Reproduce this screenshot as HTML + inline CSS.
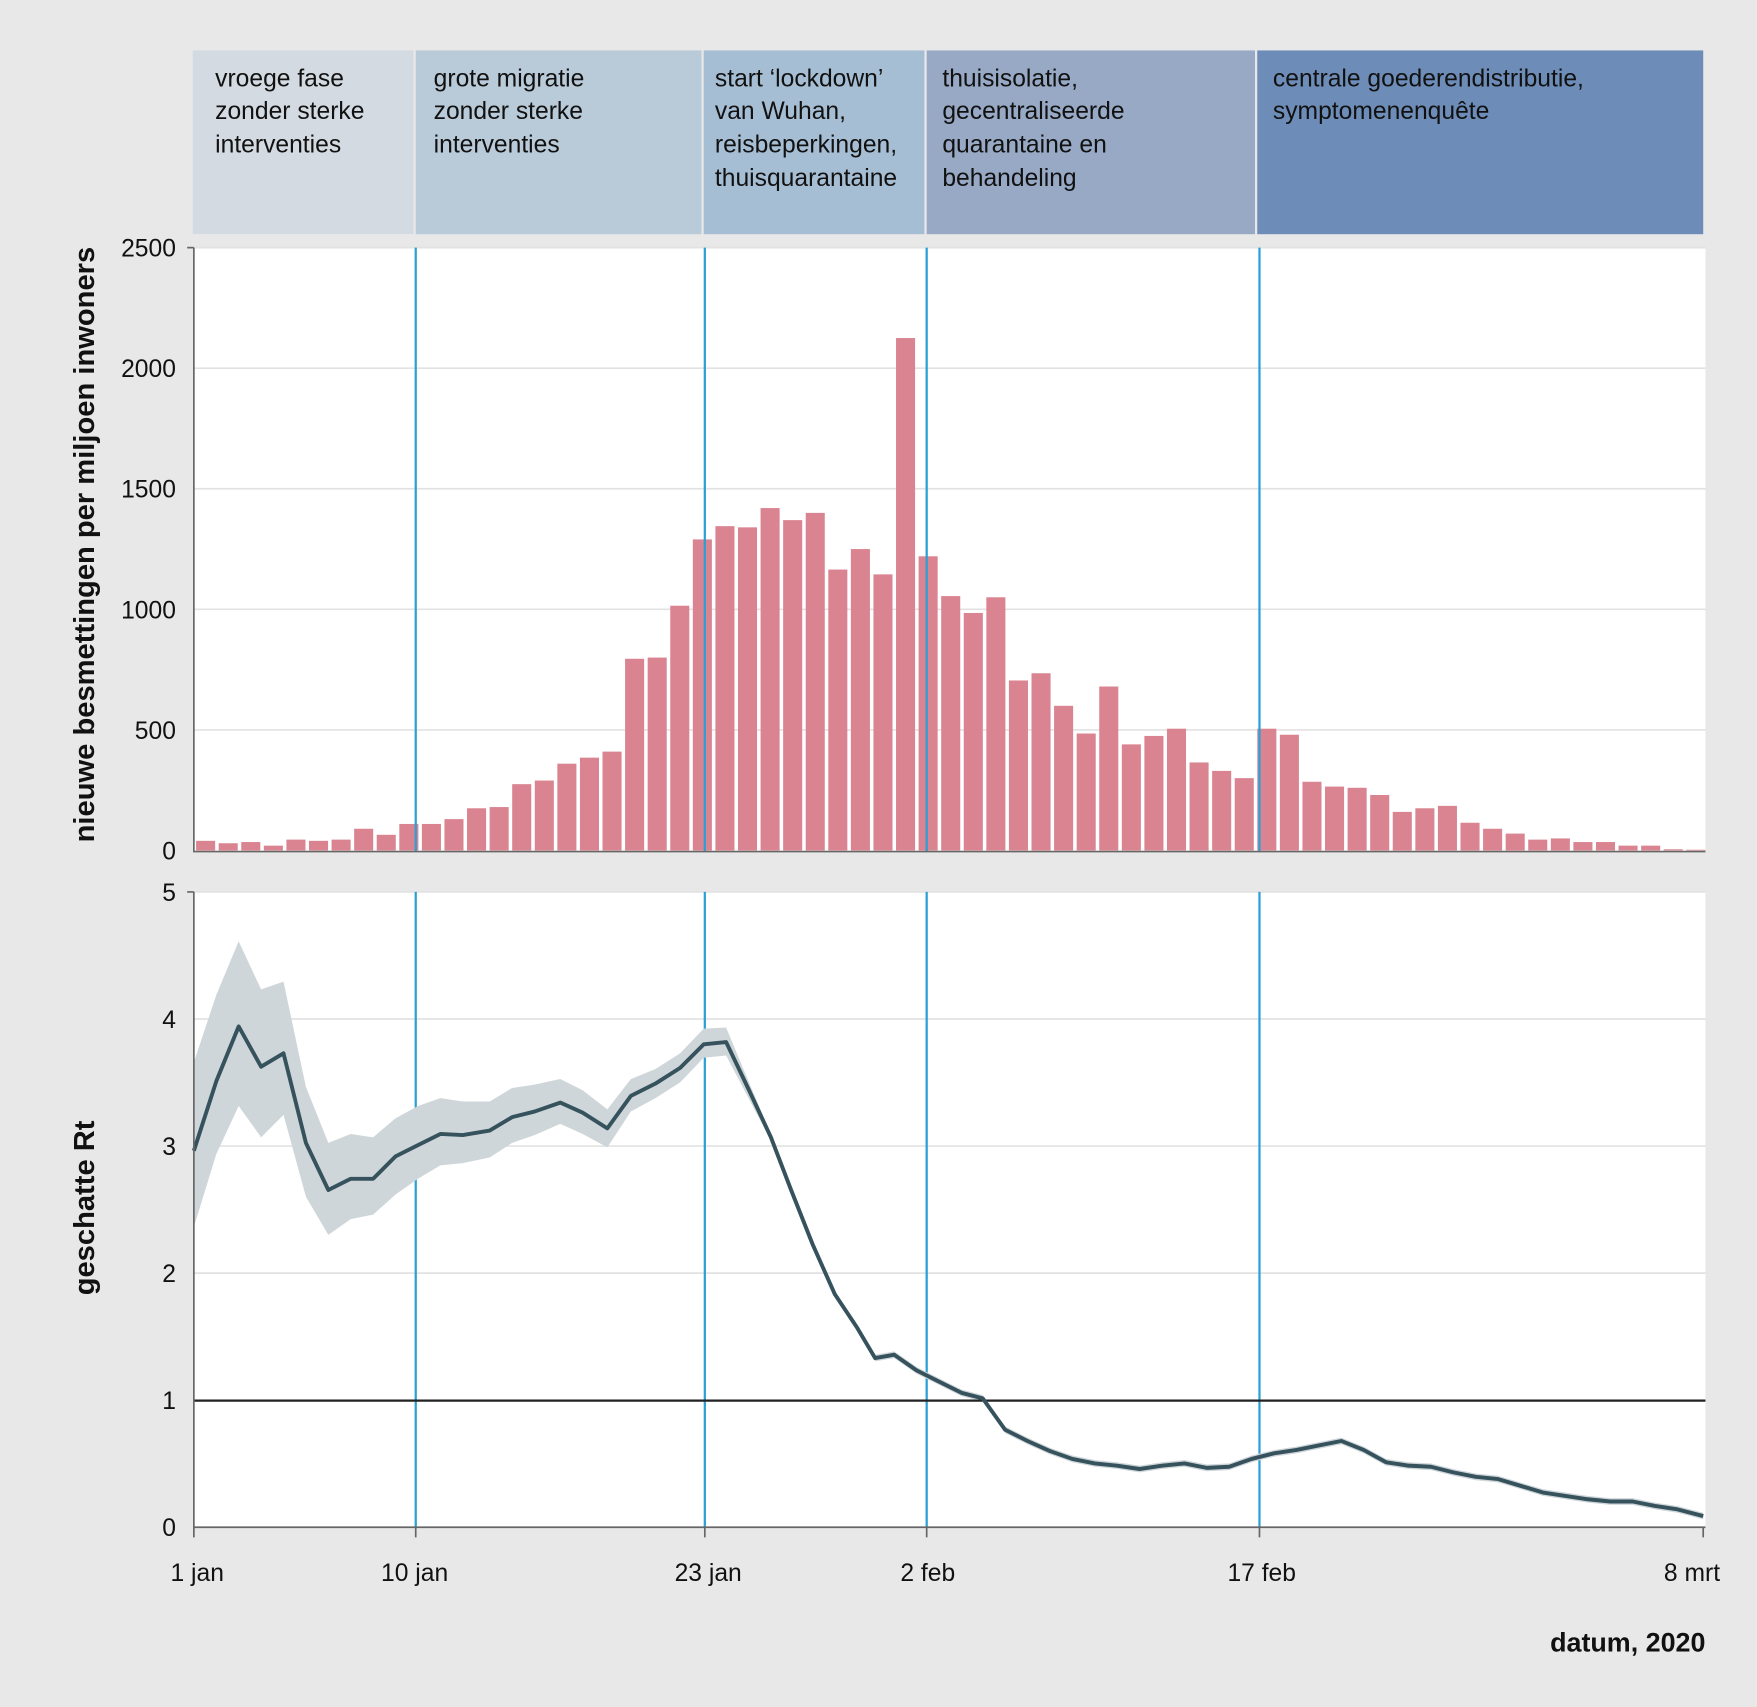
<!DOCTYPE html>
<html><head><meta charset="utf-8"><style>
html,body{margin:0;padding:0;background:#e8e8e8;}
svg{display:block;font-family:"Liberation Sans",sans-serif;}
</style></head><body>
<svg id="s" width="1757" height="1707" viewBox="0 0 1568 1523.4" xmlns="http://www.w3.org/2000/svg">
<rect x="0" y="0" width="1568" height="1524" fill="#e8e8e8"/>
<rect x="172" y="45" width="197" height="164" fill="#d3dae1"/>
<rect x="371" y="45" width="255" height="164" fill="#b9cad8"/>
<rect x="628" y="45" width="197" height="164" fill="#a6bed4"/>
<rect x="827" y="45" width="293" height="164" fill="#97a9c5"/>
<rect x="1122" y="45" width="398" height="164" fill="#6d8db8"/>
<g font-size="22" fill="#111">
<text x="192" y="77">vroege fase</text><text x="192" y="106">zonder sterke</text><text x="192" y="136">interventies</text>
<text x="387" y="77">grote migratie</text><text x="387" y="106">zonder sterke</text><text x="387" y="136">interventies</text>
<text x="638" y="77">start ‘lockdown’</text><text x="638" y="106">van Wuhan,</text><text x="638" y="136">reisbeperkingen,</text><text x="638" y="166">thuisquarantaine</text>
<text x="841" y="77">thuisisolatie,</text><text x="841" y="106">gecentraliseerde</text><text x="841" y="136">quarantaine en</text><text x="841" y="166">behandeling</text>
<text x="1136" y="77">centrale goederendistributie,</text><text x="1136" y="106">symptomenenquête</text>
</g>
<rect x="173" y="221" width="1349" height="539" fill="#fff"/>
<rect x="173" y="796" width="1349" height="567" fill="#fff"/>
<g id="grid" stroke="#e2e2e2" stroke-width="1.5"></g>
<g id="bars" fill="#d98490"></g>
<g id="vl" stroke="#2aa0d4" stroke-width="2"></g>
<path id="band" fill="#cfd6da"/>
<line x1="173" y1="1250" x2="1522" y2="1250" stroke="#222" stroke-width="2"/>
<polyline id="rt" fill="none" stroke="#36525c" stroke-width="3.5" stroke-linejoin="round"/>
<g stroke="#666" stroke-width="1.5" fill="none">
<path d="M173 221V760H1522"/><path d="M167 221H173"/>
<path d="M173 796V1363H1522"/><path d="M167 796H173M1520 1363V1372M173 1363V1372M371 1363V1372M629 1363V1372M827 1363V1372M1124 1363V1372"/>
</g>
<g id="yl" font-size="22" fill="#111" text-anchor="end"></g>
<g font-size="22" fill="#111" text-anchor="middle">
<text x="176" y="1411">1 jan</text><text x="370" y="1411">10 jan</text><text x="632" y="1411">23 jan</text>
<text x="828" y="1411">2 feb</text><text x="1126" y="1411">17 feb</text><text x="1510" y="1411">8 mrt</text>
</g>
<text x="1522" y="1474" font-size="24" font-weight="bold" text-anchor="end" fill="#111">datum, 2020</text>
<text transform="translate(84,486) rotate(-90)" font-size="26" font-weight="bold" text-anchor="middle" fill="#111">nieuwe besmettingen per miljoen inwoners</text>
<text transform="translate(84,1078) rotate(-90)" font-size="26" font-weight="bold" text-anchor="middle" fill="#111">geschatte Rt</text>
</svg>
<script>
var NS="http://www.w3.org/2000/svg";
function el(p,t,a){var e=document.createElementNS(NS,t);for(var k in a)e.setAttribute(k,a[k]);document.getElementById(p).appendChild(e);return e;}
for(var i=1;i<=5;i++){var y=759-i*107.6;el('grid','line',{x1:173,x2:1522,y1:y,y2:y});}
for(var i=1;i<=5;i++){var y=1363-i*113.4;el('grid','line',{x1:173,x2:1522,y1:y,y2:y});}
for(var i=0;i<=5;i++){var t=el('yl','text',{x:157,y:759-i*107.6+8});t.textContent=i*500;}
for(var i=0;i<=5;i++){var t=el('yl','text',{x:157,y:1363-i*113.4+8});t.textContent=i;}
var v=[40,30,35,20,45,40,45,90,65,110,110,130,175,180,275,290,360,385,410,795,800,1015,1290,1345,1340,1420,1370,1400,1165,1250,1145,2125,1220,1055,985,1050,705,735,600,485,680,440,475,505,365,330,300,505,480,285,265,260,230,160,175,185,115,90,70,45,50,35,35,20,20,5,3];
for(var i=0;i<v.length;i++){var h=v[i]*0.2152;el('bars','rect',{x:175+i*20.15,y:759-h,width:17,height:h});}
[371,629,827,1124].forEach(function(x){el('vl','line',{x1:x,x2:x,y1:221,y2:760});el('vl','line',{x1:x,x2:x,y1:796,y2:1363});});
var L=[[173,1027],[193,965],[213,916],[233,952],[253,940],[273,1020],[293,1062],[313,1052],[333,1052],[353,1032],[373,1022],[393,1012],[413,1013],[437,1009],[457,997],[477,992],[500,984],[520,993],[542,1007],[563,978],[585,967],[607,953],[628,932],[648,930],[668,972],[688,1015],[706,1062],[725,1110],[745,1155],[765,1185],[781,1212],[798,1209],[818,1223],[838,1233],[858,1243],[877,1248],[897,1276],[917,1286],[937,1295],[957,1302],[977,1306],[997,1308],[1017,1311],[1037,1308],[1057,1306],[1077,1310],[1097,1309],[1117,1302],[1137,1297],[1157,1294],[1177,1290],[1197,1286],[1217,1294],[1237,1305],[1257,1308],[1277,1309],[1297,1314],[1317,1318],[1337,1320],[1357,1326],[1377,1332],[1397,1335],[1417,1338],[1437,1340],[1457,1340],[1477,1344],[1497,1347],[1520,1353]];
var U=[948,888,840,883,876,970,1020,1012,1015,998,987,980,983,983,971,968,963,973,990,963,954,940,918,917,965,1012];
var D=[1095,1030,987,1015,995,1068,1102,1088,1084,1066,1052,1040,1038,1033,1020,1013,1003,1012,1024,992,980,966,944,942,980,1018];
document.getElementById('rt').setAttribute('points',L.map(function(p){return p.join(',')}).join(' '));
var up=[],dn=[];
for(var i=0;i<L.length;i++){var u=i<U.length?U[i]:L[i][1]-3,d=i<D.length?D[i]:L[i][1]+3;up.push(L[i][0]+','+u);dn.unshift(L[i][0]+','+d);}
document.getElementById('band').setAttribute('d','M'+up.join('L')+'L'+dn.join('L')+'Z');
</script>
</body></html>
